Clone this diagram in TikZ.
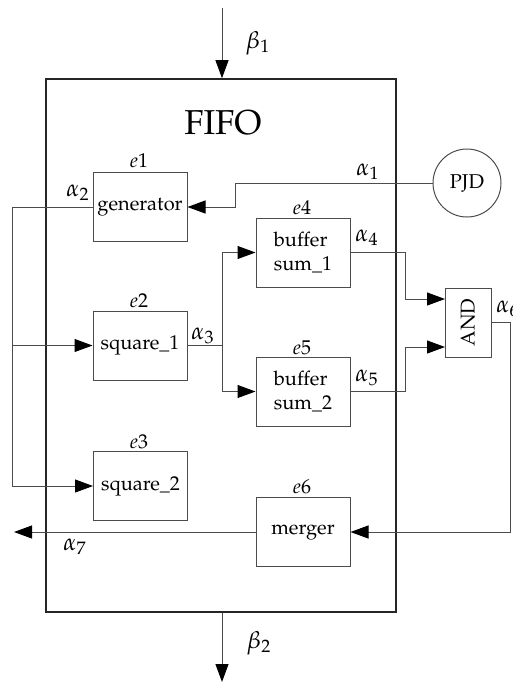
\documentclass[tikz,border=0pt]{standalone}
\usepackage[T1]{fontenc}
\usepackage{mathpazo}
\usetikzlibrary{arrows.meta,calc}
\begin{document}
\begin{tikzpicture}[x=0.5pt,y=-0.5pt,
  ln/.style={draw=black!70,line width=0.5pt},
  arr/.style={ln,-{Triangle[length=9pt,width=6.5pt,black]}},
  blk/.style={ln,minimum width=47pt,minimum height=34.5pt,inner sep=1pt},
  frame/.style={draw=black!85,line width=0.8pt,minimum width=175pt,minimum height=266.5pt},
  lab/.style={inner sep=0pt},
  sig/.style={inner sep=0pt,font=\large}]
\useasboundingbox (0,0) rectangle (513,682);
\node[frame] (F) at (221,345.5) {};
\node[lab,font=\LARGE] (fifo) at (223,123) {FIFO};
\node[blk] (gen) at (140,207) {generator};
\node[blk] (sq1) at (140,345.5) {square\_1};
\node[blk] (sq2) at (140.5,486) {square\_2};
\node[blk,align=left] (b1) at (303,252.5) {buffer\\sum\_1};
\node[blk,align=left] (b2) at (303,391.5) {buffer\\sum\_2};
\node[blk] (mer) at (303,532) {merger};
\node[ln,minimum width=23pt,minimum height=34.5pt,inner sep=1pt] (and) at (468,322.5) {\rotatebox{90}{AND}};
\node[ln,circle,minimum size=34pt,inner sep=0pt] (pjd) at (467,183) {PJD};
% e labels
\node[lab] (e1) at (139,161) {$e1$};
\node[lab] (e2) at (139,301) {$e2$};
\node[lab] (e3) at (139,442) {$e3$};
\node[lab] (e4) at (302,208) {$e4$};
\node[lab] (e5) at (302,348) {$e5$};
\node[lab] (e6) at (302,487) {$e6$};
% signal labels
\node[sig] (a1) at (368,172) {$\alpha_1$};
\node[sig] (a2) at (78,193) {$\alpha_2$};
\node[sig] (a3) at (203,336) {$\alpha_3$};
\node[sig] (a4) at (367,238) {$\alpha_4$};
\node[sig] (a5) at (367,378) {$\alpha_5$};
\node[sig,anchor=west] (a6) at (496,309) {$\alpha_6$};
\node[sig] (a7) at (75,547) {$\alpha_7$};
\node[sig] (bb1) at (258,43) {$\beta_1$};
\node[sig] (bb2) at (259,643) {$\beta_2$};
% coordinates
\coordinate (c1) at (235,207);
\coordinate (c2) at (12,486);
\coordinate (j3) at (222,345.5);
\coordinate (k) at (405,0);
\coordinate (in1) at (445,299);
\coordinate (in2) at (445,347);
\coordinate (c6) at (510,532);
\coordinate (o7) at (14,532);
\coordinate (top) at (222,8);
\coordinate (bot) at (222,682);
% connectors
\draw[arr] (pjd.west) -| (c1) -- (gen.east);
\draw[arr] (gen.west) -| (c2) -- (sq2.west);
\draw[arr] (c2 |- sq1.west) -- (sq1.west);
\draw[ln] (sq1.east) -- (j3);
\draw[arr] (j3) |- (b1.west);
\draw[arr] (j3) |- (b2.west);
\draw[arr] (b1.east) -| (k |- in1) -- (in1);
\draw[arr] (b2.east) -| (k |- in2) -- (in2);
\draw[arr] (and.east) -| (c6) -- (mer.east);
\draw[arr] (mer.west) -- (o7);
\draw[arr] (top) -- (top |- F.north);
\draw[arr] (bot |- F.south) -- (bot);
\end{tikzpicture}
\end{document}
